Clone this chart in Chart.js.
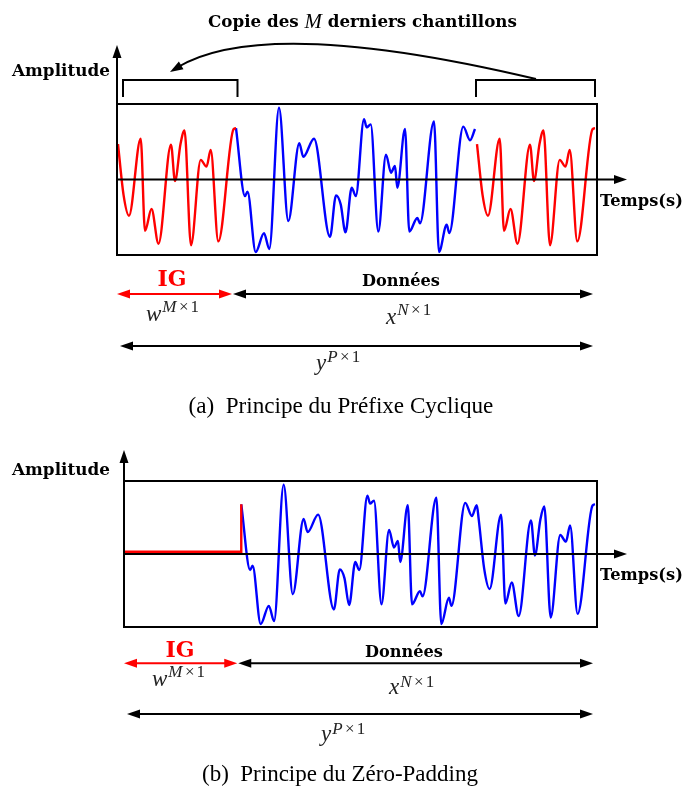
<!DOCTYPE html>
<html lang="fr">
<head>
<meta charset="utf-8">
<title>Préfixe cyclique et zéro-padding</title>
<script src="https://cdn.jsdelivr.net/npm/chart.js@4.4.1/dist/chart.umd.min.js"></script>
<style>
  html, body { margin: 0; padding: 0; background: #fff; }
  canvas { display: block; }
</style>
</head>
<body>
<canvas id="chart-cp" width="686" height="430"></canvas>
<canvas id="chart-zp" width="686" height="357"></canvas>
<script>
// Durées (unités de temps arbitraires) : IG puis bloc de données
const M = 118;
const N = 359;

// M derniers échantillons du bloc (temps relatif au début de la copie)
const tempsQueue = [0, 5.5, 11, 22.7, 27, 33.5, 40.5, 53, 57, 62.5, 66.5, 73, 82.7, 88.5, 92.7, 100.3, 115.5, 118];
const ampQueue   = [0.47, -0.2, -0.48, 0.54, -0.68, -0.39, -0.85, 0.46, -0.02, 0.47, 0.65, -0.87, 0.26, 0.17, 0.39, -0.82, 0.665, 0.68];

// début du bloc de données (partie non recopiée)
const tempsTete = [118, 127, 129.5, 137.7, 146, 151.3, 161, 170.3, 181.3, 185.3, 196, 212, 218, 222.7, 227.5,
  233.7, 237.8, 246, 248.7, 252.7, 260.3, 268, 273, 277, 279.3, 287, 291.3, 299.3, 302, 316, 321, 328.7, 331.3,
  345.3, 352, 357];
const ampTete = [0.68, -0.22, -0.16, -0.96, -0.71, -0.92, 0.95, -0.55, 0.48, 0.30, 0.54, -0.76, -0.21, -0.33, -0.70,
  -0.11, -0.22, 0.80, 0.69, 0.73, -0.69, 0.33, 0.09, 0.18, -0.11, 0.67, -0.69, -0.51, -0.58, 0.77, -0.96, -0.60, -0.71,
  0.70, 0.52, 0.67];

const niveauZeros = 0.03;

// textes
const titreCopie = ['Copie des ', 'M', ' derniers chantillons'];
const etiquettesAxes = ['Amplitude', 'Temps(s)'];
const etiquettesBlocs = ['IG', 'Données'];
const vecteurs = [['w', 'M'], ['x', 'N'], ['y', 'P']];
const legendes = [['(a)', 'Principe du Préfixe Cyclique'], ['(b)', 'Principe du Zéro-Padding']];

const ROUGE = '#ff0000', BLEU = '#0000ff', NOIR = '#000';
const GRAS = '"DejaVu Serif", serif';
const TIMES = '"Liberation Serif", "Times New Roman", serif';

const pts = (ts, as, dt = 0) => ts.map((t, i) => ({ x: t + dt, y: as[i] }));

// --- petits outils de dessin ---
function pointe(ctx, x, y, ang, couleur) {
  ctx.save();
  ctx.translate(x, y); ctx.rotate(ang);
  ctx.fillStyle = couleur;
  ctx.beginPath(); ctx.moveTo(0, 0); ctx.lineTo(-13, -4.5); ctx.lineTo(-13, 4.5); ctx.closePath(); ctx.fill();
  ctx.restore();
}

function fleche(ctx, x1, y1, x2, y2, couleur, debut, fin) {
  const ang = Math.atan2(y2 - y1, x2 - x1);
  const dx = Math.cos(ang) * 10, dy = Math.sin(ang) * 10;
  ctx.strokeStyle = couleur; ctx.lineWidth = 2;
  ctx.beginPath();
  ctx.moveTo(debut ? x1 + dx : x1, debut ? y1 + dy : y1);
  ctx.lineTo(fin ? x2 - dx : x2, fin ? y2 - dy : y2);
  ctx.stroke();
  if (debut) pointe(ctx, x1, y1, ang + Math.PI, couleur);
  if (fin) pointe(ctx, x2, y2, ang, couleur);
}

// morceaux : [texte, style, famille, échelle] ; largeur imposée -> taille de police ajustée
function ecrire(ctx, morceaux, x, y, largeur, align, couleur) {
  let total = 0;
  morceaux.forEach(([t, s, f, k = 1]) => { ctx.font = `${s} ${100 * k}px ${f}`; total += ctx.measureText(t).width; });
  const taille = 100 * largeur / total;
  let cx = align === 'center' ? x - largeur / 2 : x;
  ctx.fillStyle = couleur; ctx.textAlign = 'left'; ctx.textBaseline = 'middle';
  morceaux.forEach(([t, s, f, k = 1]) => {
    ctx.font = `${s} ${taille * k}px ${f}`;
    ctx.fillText(t, cx, y);
    cx += ctx.measureText(t).width;
  });
}

function vecteur(ctx, [base, dim], x, yb, ys) {
  ctx.fillStyle = '#222'; ctx.textAlign = 'left'; ctx.textBaseline = 'alphabetic';
  ctx.font = `italic 23px ${TIMES}`;
  ctx.fillText(base, x, yb);
  let cx = x + ctx.measureText(base).width + 1;
  ctx.font = `italic 17px ${TIMES}`;
  ctx.fillText(dim, cx, ys); cx += ctx.measureText(dim).width + 2.5;
  ctx.font = `17px ${TIMES}`;
  ctx.fillText('×', cx, ys); cx += ctx.measureText('×').width + 2;
  ctx.fillText('1', cx, ys);
}

function annotations(cfg) {
  return {
    id: 'schema',
    afterDraw(chart) {
      const { ctx, chartArea: ca } = chart;
      const px = t => chart.scales.x.getPixelForValue(t);
      const y0 = chart.scales.y.getPixelForValue(0);
      ctx.save();
      ctx.strokeStyle = NOIR; ctx.lineWidth = 2;
      ctx.strokeRect(ca.left, ca.top, ca.right - ca.left, ca.bottom - ca.top);
      fleche(ctx, ca.left, y0, cfg.boutAxe, y0, NOIR, false, true);
      fleche(ctx, ca.left, ca.bottom, ca.left, cfg.hautAxe, NOIR, false, true);
      ecrire(ctx, [[etiquettesAxes[0], 'bold', GRAS]], 12, cfg.amp, 98, 'left', NOIR);
      ecrire(ctx, [[etiquettesAxes[1], 'bold', GRAS]], 600, y0 + 22, 83, 'left', NOIR);

      // flèches IG / données / bloc complet
      fleche(ctx, ca.left, cfg.f1, px(M) - 4, cfg.f1, ROUGE, true, true);
      fleche(ctx, px(M) - 3, cfg.f1, px(M + N) - 2, cfg.f1, NOIR, true, true);
      fleche(ctx, ca.left + 3, cfg.f2, px(M + N) - 2, cfg.f2, NOIR, true, true);
      ecrire(ctx, [[etiquettesBlocs[0], 'bold', GRAS]], cfg.ig[0], cfg.ig[1], 29, 'center', ROUGE);
      ecrire(ctx, [[etiquettesBlocs[1], 'bold', GRAS]], cfg.don[0], cfg.don[1], 78, 'center', NOIR);
      cfg.vec.forEach((v, i) => vecteur(ctx, vecteurs[i], v[0], v[1], v[2]));

      ecrire(ctx, [[cfg.legende[0] + '\u2002', '', TIMES], [cfg.legende[1], '', TIMES]],
        cfg.leg[0], cfg.leg[1], cfg.leg[2], 'center', NOIR);

      if (cfg.copie) {
        // crochets au-dessus des M premiers et M derniers échantillons
        ctx.strokeStyle = NOIR; ctx.lineWidth = 2;
        [[px(0) + 5, px(M) + 1.5], [px(N) - 1, px(N + M)]].forEach(([a, b]) => {
          ctx.beginPath(); ctx.moveTo(a, 97); ctx.lineTo(a, 80); ctx.lineTo(b, 80); ctx.lineTo(b, 97); ctx.stroke();
        });
        const x0 = (px(N) + px(N + M)) / 2, cX = 266, cY = 15, xf = 170, yf = 72;
        ctx.beginPath(); ctx.moveTo(x0, 79); ctx.quadraticCurveTo(cX, cY, xf + 8, yf - 5); ctx.stroke();
        pointe(ctx, xf, yf, Math.atan2(yf - cY, xf - cX), NOIR);
        ecrire(ctx, [[titreCopie[0], 'bold', GRAS], [titreCopie[1], 'italic', TIMES, 1.25], [titreCopie[2], 'bold', GRAS]],
          362.5, 23, 309, 'center', NOIR);
      }
      ctx.restore();
    },
  };
}

function tracer(id, datasets, pad, cfg) {
  return new Chart(document.getElementById(id), {
    type: 'line',
    data: { datasets },
    options: {
      responsive: false, animation: false, devicePixelRatio: 1,
      layout: { padding: pad },
      plugins: { legend: { display: false }, tooltip: { enabled: false } },
      elements: { point: { radius: 0 }, line: { borderWidth: 2.4 } },
      scales: {
        x: { type: 'linear', min: -1, max: 479, display: false },
        y: { min: -1, max: 1, display: false },
      },
    },
    plugins: [annotations(cfg)],
  });
}

const courbe = (label, data, color) => ({ label, data, borderColor: color, cubicInterpolationMode: 'monotone' });

// (a) préfixe cyclique
tracer('chart-cp', [
  courbe('IG (copie)', pts(tempsQueue, ampQueue), ROUGE),
  courbe('Données', pts(tempsTete, ampTete), BLEU),
  courbe('Données (M derniers)', pts(tempsQueue, ampQueue, N), ROUGE),
], { left: 117, right: 89, top: 104, bottom: 175 }, {
  copie: true, hautAxe: 45, boutAxe: 627, amp: 72,
  f1: 294, f2: 346, ig: [172, 280], don: [401, 282],
  vec: [[146, 321, 312], [386, 324, 315], [316, 370, 362]],
  legende: legendes[0], leg: [341, 407, 305],
});

// (b) zéro-padding
tracer('chart-zp', [
  { label: 'IG (zéros)', data: [{ x: 0, y: niveauZeros }, { x: M, y: niveauZeros }, { x: M, y: ampTete[0] }], borderColor: ROUGE, tension: 0 },
  courbe('Données', pts(tempsTete, ampTete).concat(pts(tempsQueue, ampQueue, N)), BLEU),
], { left: 124, right: 89, top: 51, bottom: 160 }, {
  copie: false, hautAxe: 20, boutAxe: 627, amp: 40.7,
  f1: 233.3, f2: 284, ig: [180, 221.7], don: [404, 222.7],
  vec: [[152, 256, 247], [389, 264, 257], [321, 311, 304]],
  legende: legendes[1], leg: [340, 345, 276],
});
</script>
</body>
</html>
